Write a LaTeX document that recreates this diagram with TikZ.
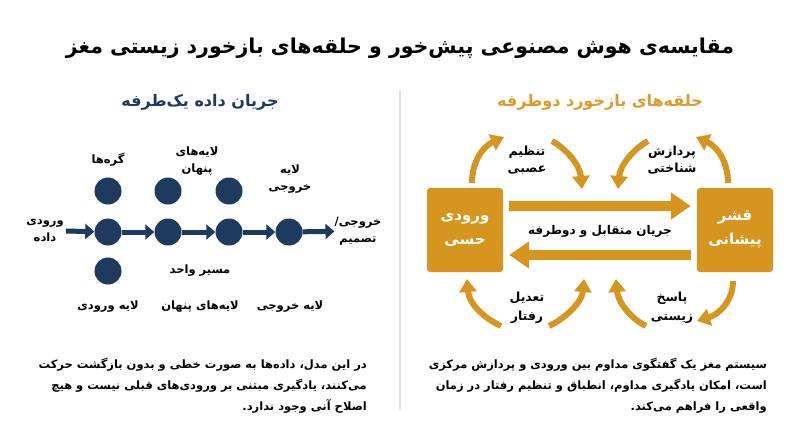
\documentclass[tikz,border=0pt]{standalone}
\usepackage{fontspec}
\usetikzlibrary{arrows.meta}
\TeXXeTstate=1
\newfontfamily\fa[Script=Arabic]{DejaVu Sans}
\definecolor{navy}{HTML}{1F3A5F}
\definecolor{gold}{HTML}{D6951F}
\definecolor{goldt}{HTML}{DE9A2A}
\definecolor{divider}{HTML}{E2E2E2}
\newcommand{\R}[1]{\beginR #1\endR}
\tikzset{
  lbl/.style={font=\fa\bfseries\fontsize{11.5}{17}\selectfont, align=center, text=black, inner sep=0pt},
  para/.style={font=\fa\bfseries\fontsize{11.5}{21}\selectfont, align=right, text=black, inner sep=0pt},
  neuron/.style={circle, fill=navy, minimum size=27pt, inner sep=0pt},
  navyarrow/.style={draw=navy, line width=5pt, -{Triangle[length=9pt,width=15pt]}},
  bigarrow/.style={draw=gold, line width=10pt, -{Triangle[length=20pt,width=26pt]}},
  curvearrow/.style={draw=gold, line width=6pt, -{Triangle[length=13pt,width=17pt]}},
  goldbox/.style={fill=gold, rounded corners=3pt, minimum width=76pt, minimum height=84pt, inner sep=0pt,
    text=white, align=center, font=\fa\bfseries\fontsize{15}{24}\selectfont},
}
\begin{document}
\begin{tikzpicture}[x=1pt,y=-1pt]
\useasboundingbox[fill=white] (0,0) rectangle (800,447);
% title
\node[font=\fa\bfseries\fontsize{20.5}{24}\selectfont, inner sep=0pt] (title) at (400,48) {\R{مقایسه‌ی هوش مصنوعی پیش‌خور و حلقه‌های بازخورد زیستی مغز}};
% divider
\draw[divider, line width=1.2pt] (400,90) coordinate (d1) -- (400,410) coordinate (d2);
% headings
\node[font=\fa\bfseries\fontsize{16}{20}\selectfont, text=navy, inner sep=0pt] (hl) at (200,102) {\R{جریان داده یک‌طرفه}};
\node[font=\fa\bfseries\fontsize{16}{20}\selectfont, text=goldt, inner sep=0pt] (hr) at (600,102) {\R{حلقه‌های بازخورد دوطرفه}};
% left network
\node[neuron] (t1) at (108,191) {};
\node[neuron] (t2) at (168,191) {};
\node[neuron] (t3) at (229,191) {};
\node[neuron] (m1) at (108,232) {};
\node[neuron] (m2) at (168,232) {};
\node[neuron] (m3) at (229,232) {};
\node[neuron] (m4) at (289,232) {};
\node[neuron] (b1) at (108,271) {};
\node[lbl] (in) at (45,231) {\R{ورودی}\\\R{داده}};
\node[lbl] (out) at (358,231) {\R{خروجی/}\\\R{تصمیم}};
\draw[navyarrow] (in.east) ++(2,0) coordinate (a0) -- (m1);
\draw[navyarrow] (m1) -- (m2);
\draw[navyarrow] (m2) -- (m3);
\draw[navyarrow] (m3) -- (m4);
\draw[navyarrow] (m4) -- (out);
\node[lbl] (lnodes) at (108,160) {\R{گره‌ها}};
\node[lbl] (lhid) at (197,161) {\R{لایه‌های}\\\R{پنهان}};
\node[lbl] (lout) at (290,179) {\R{لایه}\\\R{خروجی}};
\node[lbl] (lpath) at (200,271) {\R{مسیر واحد}};
\node[lbl] (bl1) at (108,307) {\R{لایه ورودی}};
\node[lbl] (bl2) at (200,307) {\R{لایه‌های پنهان}};
\node[lbl] (bl3) at (290,307) {\R{لایه خروجی}};
% right loop
\node[goldbox] (sens) at (465,230) {\R{ورودی}\\\R{حسی}};
\node[goldbox] (pfc) at (735,230) {\R{قشر}\\\R{پیشانی}};
\coordinate (s1) at (sens.east |- 0,206);
\coordinate (p1) at (pfc.west |- 0,206);
\coordinate (s2) at (sens.east |- 0,255);
\coordinate (p2) at (pfc.west |- 0,255);
\draw[bigarrow] ([xshift=6pt]s1) -- ([xshift=-6pt]p1);
\draw[bigarrow] ([xshift=-6pt]p2) -- ([xshift=6pt]s2);
\node[lbl, font=\fa\bfseries\fontsize{12}{14}\selectfont] (flow) at (600,231) {\R{جریان متقابل و دوطرفه}};
% curved arrows top
\coordinate (c1a) at (472,183);
\coordinate (c1b) at (504,137);
\draw[curvearrow] (c1a) .. controls (472,160) and (484,146) .. (c1b);
\coordinate (c2a) at (552,141);
\coordinate (c2b) at (582,189);
\draw[curvearrow] (c2a) .. controls (568,150) and (580,166) .. (c2b);
\coordinate (c3a) at (648,141);
\coordinate (c3b) at (618,189);
\draw[curvearrow] (c3a) .. controls (632,150) and (620,166) .. (c3b);
\coordinate (c4a) at (728,183);
\coordinate (c4b) at (696,137);
\draw[curvearrow] (c4a) .. controls (728,160) and (716,146) .. (c4b);
\node[lbl, font=\fa\bfseries\fontsize{12.5}{17}\selectfont] (neuro) at (527,160) {\R{تنظیم}\\\R{عصبی}};
\node[lbl, font=\fa\bfseries\fontsize{12.5}{17}\selectfont] (cogn) at (672,160) {\R{پردازش}\\\R{شناختی}};
% curved arrows bottom
\coordinate (c5a) at (501,326);
\coordinate (c5b) at (467,279);
\draw[curvearrow] (c5a) .. controls (484,318) and (469,304) .. (c5b);
\coordinate (c6a) at (549,326);
\coordinate (c6b) at (584,279);
\draw[curvearrow] (c6a) .. controls (566,318) and (582,302) .. (c6b);
\coordinate (c7a) at (646,326);
\coordinate (c7b) at (616,279);
\draw[curvearrow] (c7a) .. controls (630,318) and (618,302) .. (c7b);
\coordinate (c8a) at (733,281);
\coordinate (c8b) at (697,321);
\draw[curvearrow] (c8a) .. controls (733,300) and (720,314) .. (c8b);
\node[lbl, font=\fa\bfseries\fontsize{12.5}{19}\selectfont] (behav) at (527,308) {\R{تعدیل}\\\R{رفتار}};
\node[lbl, font=\fa\bfseries\fontsize{12.5}{19}\selectfont] (bio) at (672,308) {\R{پاسخ}\\\R{زیستی}};
% paragraphs
\node[para, anchor=north east] (pl) at (367,358) {\R{در این مدل، داده‌ها به صورت خطی و بدون بازگشت حرکت}\\\R{می‌کنند، یادگیری مبتنی بر ورودی‌های قبلی نیست و هیچ}\\\R{اصلاح آنی وجود ندارد.}};
\node[para, anchor=north east] (pr) at (767,358) {\R{سیستم مغز یک گفتگوی مداوم بین ورودی و پردازش مرکزی}\\\R{است، امکان یادگیری مداوم، انطباق و تنظیم رفتار در زمان}\\\R{واقعی را فراهم می‌کند.}};
\end{tikzpicture}
\end{document}
